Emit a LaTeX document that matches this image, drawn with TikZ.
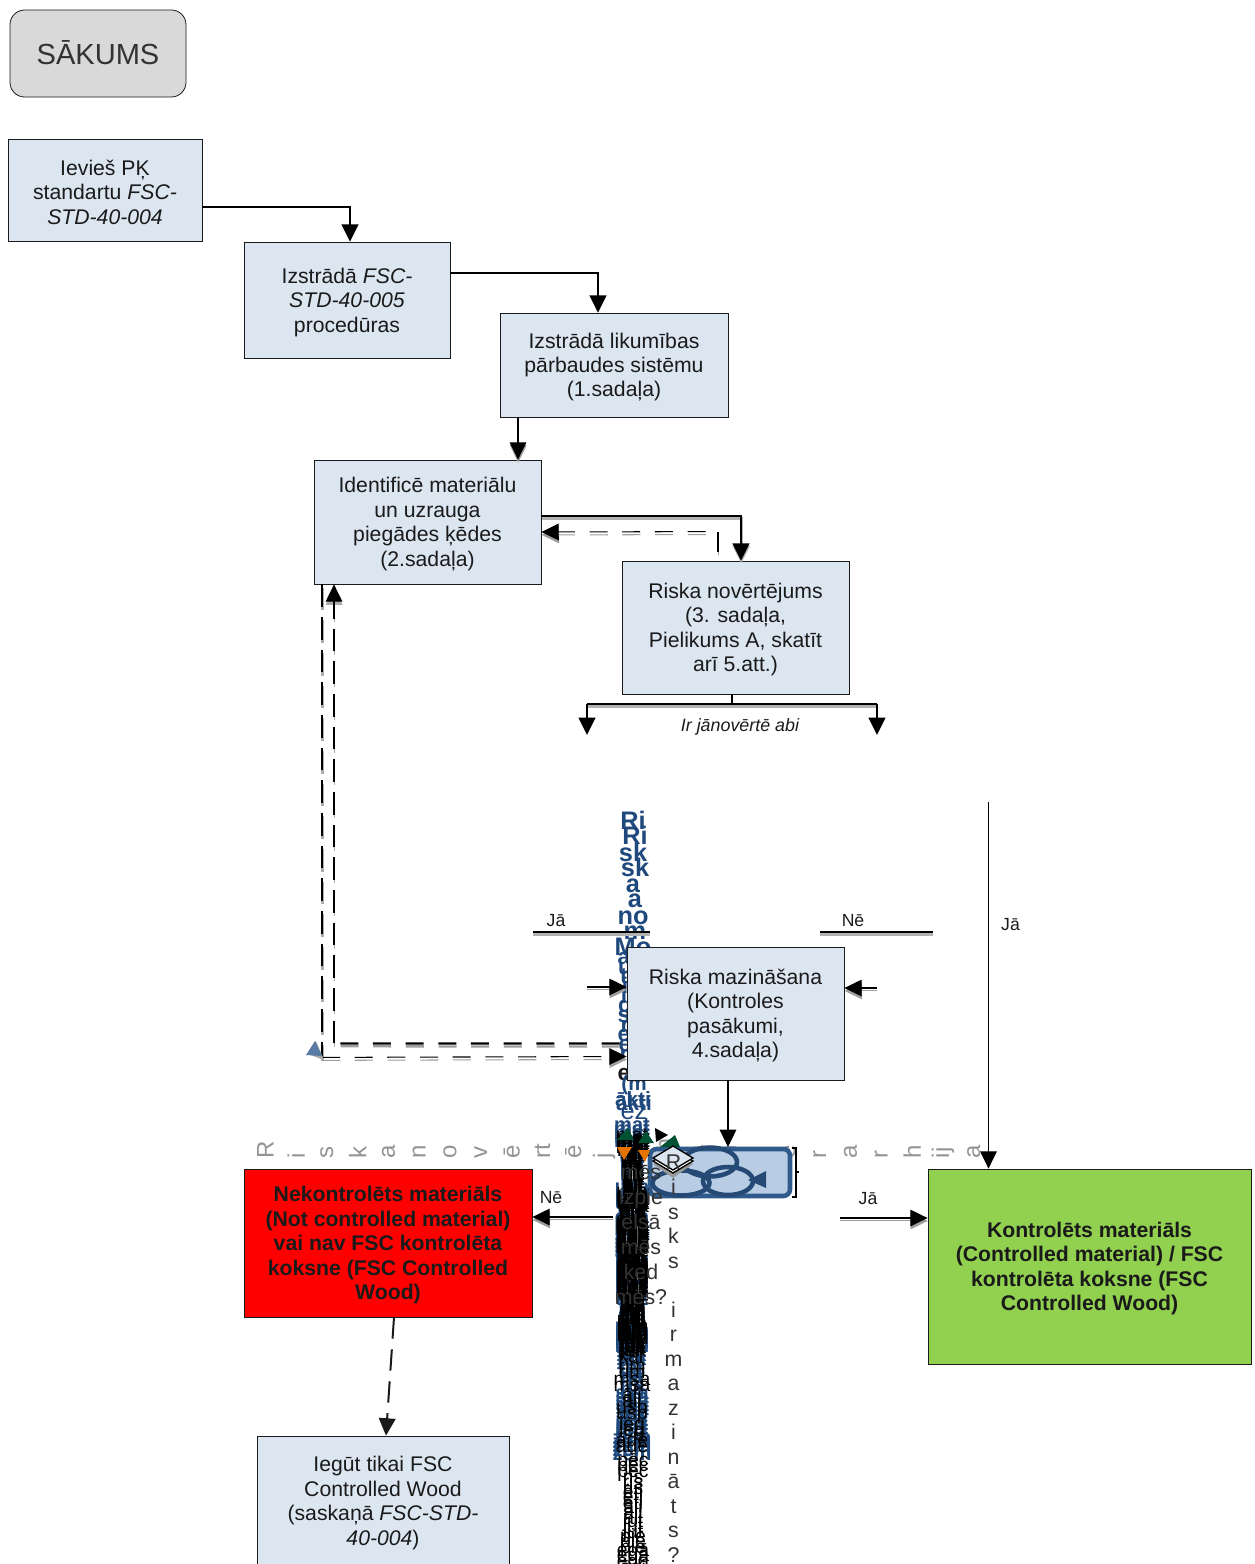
\documentclass[tikz,border=0pt]{standalone}
\usepackage{fontspec}
\setmainfont{Liberation Sans}
\usetikzlibrary{arrows.meta,calc,shapes.geometric}
\definecolor{boxblue}{HTML}{DCE6F1}
\definecolor{chainfill}{HTML}{B8CCE4}
\definecolor{chainedge}{HTML}{2F5A8C}
\definecolor{chaindark}{HTML}{254A75}
\definecolor{inkblue}{HTML}{1F497D}
\definecolor{ink}{HTML}{1A1A1A}
\definecolor{txtgray}{HTML}{333333}
\newdimen\px \px=.75pt
\newcommand\bodyfont{\fontsize{15.9pt}{18.35pt}\selectfont}
\newcommand\smallfont{\fontsize{13.2pt}{16pt}\selectfont}
\newcommand\dn{\rule{0pt}{14.6pt}}
\def\vsA#1{\ifx#1\relax\else#1\\\expandafter\vsA\fi}
\newcommand\vstack[1]{\vsA#1\relax}
\tikzset{
  box/.style={draw=ink,line width=.6pt,fill=boxblue,align=center,inner sep=0pt,text=ink,font=\bodyfont},
  lbl/.style={inner sep=0pt,text=ink,font=\smallfont},
  tip/.style={-{Triangle[length=13pt,width=12.5pt]}},
  shadow thin/.style={preaction={draw=black!38,line width=.8pt,transform canvas={xshift=.2pt,yshift=-2.2pt}}},
  shadow thick/.style={preaction={draw=black!30,line width=2.2pt,transform canvas={xshift=.2pt,yshift=-2pt}}},
  shadow tip/.style={preaction={draw=black!38,fill=black!38,line width=.8pt,transform canvas={xshift=.2pt,yshift=-2.2pt},tip}},
  shadow hdash/.style={preaction={draw=black!38,line width=#1,dash pattern=on 13.5pt off 11pt,transform canvas={xshift=.2pt,yshift=-2.2pt}}},
  shadow vdash/.style={preaction={draw=black!32,line width=#1,dash pattern=on 17pt off 7.5pt,transform canvas={xshift=.1pt,yshift=-2.4pt}}},
  heavy/.style={line width=1.7pt,draw=black},
  thin1/.style={line width=.8pt,draw=black},
  hdash/.style={dash pattern=on 13.5pt off 11pt},
  vdash/.style={dash pattern=on 17pt off 7.5pt},
  colA/.style={inner sep=0pt,align=center,text=inkblue,font=\fontsize{19pt}{23.6pt}\bfseries\selectfont},
  colB/.style={inner sep=0pt,align=center,text=txtgray,font=\fontsize{16pt}{18.4pt}\selectfont},
  blobk/.style={inner sep=0pt,text=black,font=\fontsize{14.5pt}{18pt}\selectfont},
  blobb/.style={inner sep=0pt,text=inkblue,font=\fontsize{15pt}{18pt}\bfseries\selectfont},
}
\begin{document}
\begin{tikzpicture}[x=.75pt,y=-.75pt]
\useasboundingbox (0,0) rectangle (1254,1564);

% start
\node[draw=ink,line width=.6pt,fill=black!15,rounded corners=11pt,minimum width=176\px,minimum height=87\px,inner sep=0pt,text=txtgray,font=\fontsize{21.8pt}{26pt}\selectfont] (start) at (98,53.5) {\raisebox{1.5pt}{SĀKUMS}};

% spaced grey row
\node[inner sep=0pt,anchor=west,text=black!42,font=\fontsize{18pt}{18pt}\selectfont] (rowtext) at (249.6,1148) {\hbox{\foreach \c in {R,i,s,k,a,n,o,v,ē,{rt},ē,j,u,m,a,h,i,e,r,a,r,h,{ij},a}{\makebox[30.8\px]{\rotatebox{90}{\c}}}}};

% chain symbol
\draw[line width=3.4pt,draw=chainedge,fill=chainfill,rounded corners=5pt] (650,1149) rectangle (790,1196);
\node[ellipse,draw=chaindark,line width=3.4pt,minimum width=57\px,minimum height=25\px,inner sep=0pt] (lnka) at (681,1183) {};
\node[ellipse,draw=chaindark,line width=3.4pt,minimum width=54\px,minimum height=29\px,inner sep=0pt] (lnkb) at (710,1162) {};
\node[ellipse,draw=chaindark,line width=3.4pt,minimum width=50\px,minimum height=28\px,inner sep=0pt] (lnkc) at (728,1181) {};
\fill[chaindark] (748,1180) -- (766,1171) -- (766,1188) -- cycle;
\draw[line width=1.2pt] (792,1148) -- (796,1148) -- (796,1197) -- (792,1197);
\draw[line width=1.2pt] (796,1172) -- (799,1172);

% stacked blue columns
\node[colA,anchor=north] (colone) at (633,811) {Ri\\sk\\a\\no\\Mo\\};
\node[colA,anchor=north] (coltwo) at (635,826) {Ri\\sk\\a\\m\\};
\node[colA,anchor=north,font=\fontsize{17pt}{14.5pt}\bfseries\selectfont] (colthree) at (624,952) {a\\t\\l\\s\\e\\r\\\color{ink}e\\};
\node[colA,anchor=north,font=\fontsize{17pt}{14.5pt}\bfseries\selectfont] (colseven) at (625,962) {u\\i\\g\\r\\e\\};
\node[colA,anchor=north,font=\fontsize{15.5pt}{12pt}\bfseries\selectfont] (colfour) at (634,1075) {(m\\ākti\\};
\node[colA,anchor=north,font=\fontsize{15.5pt}{12pt}\bfseries\selectfont] (colfive) at (633,1091) {ākti\\};
\node[colA,anchor=north,font=\fontsize{19pt}{16pt}\selectfont] (colsix) at (634,1106) {ez\\};

% unreadable stack of overprinted narrow text
\foreach \sh/\st in {0/0,1/4,2/8,3/2,4/6}{
  \foreach \w [count=\i] in {mat,ter,riā,āli,usa,pie,egā,āde,esi,ķēd,dez,izc,cel,lsm,juk,tsr,ris,ska,irp,paz,zem}{
    \pgfmathsetmacro\yy{1125+\st*2+(\i-1)*15.7}
    \node[blobb,name=bb\sh\i] at (632,\yy) {\w};
  }
}
\foreach \sh/\st in {0/0,1/3,2/5,3/7,4/9,5/12}{
  \foreach \w [count=\i] in {mat,ter,riā,āli,usa,pie,egā,āde,esi,ķēd,dez,izc,cel,lsm,juk}{
    \pgfmathsetmacro\yy{1135+\st+(\i-1)*14.4}
    \node[blobk,name=bk\sh\i] at (632,\yy) {\w};
    \node[blobk,name=bl\sh\i,xshift=1pt] at (632,\yy+3) {\w};
  }
}
\foreach \sh/\st in {0/0,1/6}{
  \foreach \w [count=\i] in {kar,rim,msa,āli,usp,ieg,ādē}{
    \pgfmathsetmacro\yy{1350+\st+(\i-1)*15}
    \node[blobk,name=bn\sh\i] at (632,\yy) {\w};
  }
}
\foreach \sh/\st in {0/0,1/5,2/11}{
  \foreach \w [count=\i] in {pēc,ris,ēti,āli,jut,pie,egā,ādi}{
    \pgfmathsetmacro\yy{1462+\st+(\i-1)*15}
    \node[blobk,name=bm\sh\i] at (633,\yy) {\w};
  }
}
\node[inner sep=0pt,align=center,text=txtgray,font=\fontsize{16pt}{18.75pt}\selectfont] (narrow) at (641,1235) {mēs\\izpie\\elsā\\mēs\\ķed\\mēs?};

% coloured marker glyphs
\fill[green!40!black!80!blue] (617,1140) -- (628,1128) -- (634,1140) -- cycle;
\fill[orange!90!black] (617,1147) -- (632,1147) -- (624,1160) -- cycle;
\fill[green!40!black!80!blue] (638,1143) -- (646,1131) -- (654,1143) -- cycle;
\fill[orange!90!black] (638,1150) -- (650,1150) -- (645,1162) -- cycle;
\fill[green!40!black!80!blue] (660,1147) -- (675,1135) -- (680,1147) -- cycle;
\fill[black] (655,1128) -- (668,1135) -- (656,1142) -- cycle;
\fill[black!40] (653,1164) -- (673,1178) -- (693,1164) -- (673,1152) -- cycle;
\draw[line width=1pt,fill=white] (653,1161) -- (673,1173) -- (693,1161) -- (673,1149) -- cycle;
\draw[line width=1pt,fill=boxblue] (653,1158) -- (673,1170) -- (693,1158) -- (673,1146) -- cycle;
\node[colB,anchor=north] (riskq) at (673.5,1155) {\vstack{Risks~ir mazināts?}};

% boxes
\node[box,minimum width=194\px,minimum height=102\px] (ievies) at (105,190) {\dn Ievieš PĶ\\standartu \textit{FSC-}\\\textit{STD-40-004}};
\node[box,minimum width=206\px,minimum height=116\px] (izstr) at (347,300) {\dn Izstrādā \textit{FSC-}\\\textit{STD-40-005}\\procedūras};
\node[box,minimum width=228\px,minimum height=104\px] (likum) at (614,365) {\dn Izstrādā likumības\\pārbaudes sistēmu\\(1.sadaļa)};
\node[box,minimum width=227\px,minimum height=124\px] (ident) at (427.5,522) {\dn Identificē materiālu\\un uzrauga\\piegādes ķēdes\\(2.sadaļa)};
\node[box,minimum width=227\px,minimum height=133\px] (novert) at (735.5,627.5) {\dn Riska novērtējums\\(3. sadaļa,\\Pielikums A, skatīt\\arī 5.att.)};
\node[box,minimum width=217\px,minimum height=133\px] (mazin) at (735.5,1013.5) {\dn Riska mazināšana\\(Kontroles\\pasākumi,\\4.sadaļa)};
\node[box,fill=red,minimum width=288\px,minimum height=148\px,font=\bodyfont\bfseries] (nekon) at (388,1243) {\dn Nekontrolēts materiāls\\(Not controlled material)\\vai nav FSC kontrolēta\\koksne (FSC Controlled\\Wood)};
\node[box,fill={rgb,255:red,146;green,208;blue,80},minimum width=323\px,minimum height=195\px,font=\bodyfont\bfseries] (kontr) at (1089.5,1266.5) {\dn Kontrolēts materiāls\\(Controlled material) / FSC\\kontrolēta koksne (FSC\\Controlled Wood)};
\node[box,minimum width=252\px,minimum height=130\px] (iegut) at (383,1501) {\dn Iegūt tikai FSC\\Controlled Wood\\(saskaņā \textit{FSC-STD-}\\\textit{40-004})};

% solid connectors
\draw[heavy,tip] ($(ievies.east)+(0,17)$) -| ($(izstr.north)+(3,0)$);
\draw[heavy,tip] ($(izstr.east)+(0,-27)$) -| ($(likum.north)+(-16,0)$);
\draw[thin1,shadow tip,tip] ($(likum.south)+(-96,0)$) -- ($(ident.north)+(90.5,0)$);
\draw[heavy,shadow thick,tip] ($(ident.east)+(0,-6)$) -| ($(novert.north)+(5.5,0)$);

% dashed feedback connectors
\draw[heavy,shadow thin] ($(novert.north)+(-17.5,-9)$) -- ($(novert.north)+(-17.5,-29)$);
\draw[thin1,shadow hdash=.8pt,hdash,tip] ($(novert.north)+(-30,-29)$) -- ($(ident.east)+(0,10)$);
\coordinate (cornA) at ($(ident.south)+(-105.5,473)$);
\draw[line width=2.2pt,draw=black,shadow vdash=2.2pt,vdash] ($(ident.south)+(-105.5,0)$) -- (cornA);
\draw[thin1,shadow hdash=.8pt,hdash,tip] (cornA) -- ($(mazin.west)+(0,43)$);
\coordinate (cornB) at ($(ident.south)+(-93.5,459)$);
\draw[heavy,shadow hdash=1.7pt,hdash] ($(mazin.west)+(-7,30)$) -- (cornB);
\draw[thin1,shadow vdash=.8pt,vdash,tip] (cornB) -- ($(ident.south)+(-93.5,0)$);
\fill[black!35] (308,1054) -- (316,1041) -- (324,1060) -- cycle;
\fill[chainedge!80!white] (306,1055) -- (315,1041) -- (322,1056) -- cycle;

% risk split
\coordinate (splitL) at (587,704);
\coordinate (splitR) at (877,704);
\draw[heavy] ($(novert.south)+(-3.5,0)$) -- ($(novert.south)+(-3.5,10)$);
\draw[heavy,shadow thick] (splitL) -- (splitR);
\draw[heavy,tip] (splitL) -- ++(0,31);
\draw[heavy,tip] (splitR) -- ++(0,31);
\node[lbl,font=\fontsize{13.4pt}{16pt}\itshape\selectfont] (abi) at (740,727) {Ir jānovērtē abi};

% right long line
\coordinate (longtop) at (988.5,802);
\draw[thin1,tip] (longtop) -- (kontr.north -| longtop);
\node[lbl] (jaR) at (1010.5,925) {Jā};

% decision stubs
\coordinate (jaL1) at (533,932);
\coordinate (jaL2) at (650,932);
\draw[heavy,shadow thick] (jaL1) -- (jaL2);
\node[lbl] (jaL) at (556,921) {Jā};
\coordinate (neL1) at (820,932);
\coordinate (neL2) at (933,932);
\draw[heavy,shadow thick] (neL1) -- (neL2);
\node[lbl] (neA) at (853,920.5) {Nē};
\coordinate (inL) at (587,987);
\draw[thin1,shadow tip,tip] (inL) -- (inL -| mazin.west);
\coordinate (inR) at (877,988);
\draw[thin1,shadow tip,tip] (inR) -- (inR -| mazin.east);
\coordinate (chainTop) at (728,1147);
\draw[thin1,tip] (mazin.south -| chainTop) -- (chainTop);
\coordinate (outN) at (613,1217);
\draw[thin1,shadow thin,tip] (outN) -- (outN -| nekon.east);
\node[lbl] (neB) at (551,1197.5) {Nē};
\coordinate (outJ) at (840,1218);
\draw[thin1,shadow thin,tip] (outJ) -- (outJ -| kontr.west);
\node[lbl] (jaC) at (868,1198.5) {Jā};
\draw[line width=1.5pt,draw=ink,dash pattern=on 16pt off 8pt,tip] ($(nekon.south)+(6,0)$) -- ($(iegut.north)+(3,0)$);
\end{tikzpicture}
\end{document}
